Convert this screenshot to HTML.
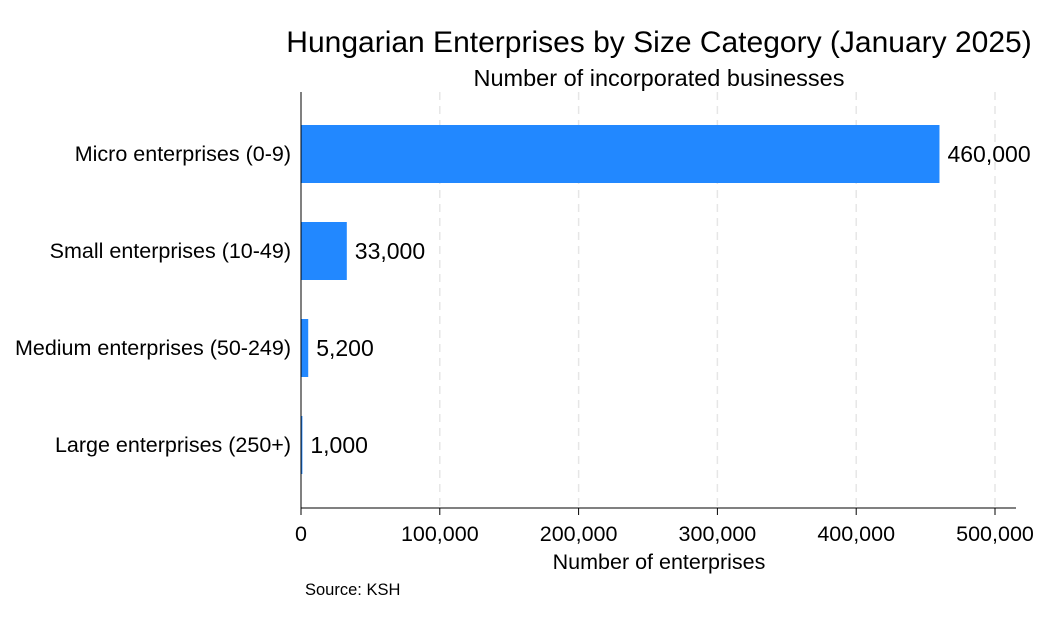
<!DOCTYPE html>
<html><head><meta charset="utf-8"><style>
body{margin:0;background:#fff;}
svg text{font-family:"Liberation Sans",Arial,sans-serif;fill:#000;}
</style></head><body>
<svg id="chart" width="1040" height="624">
<text x="659" y="52" font-size="30" text-anchor="middle">Hungarian Enterprises by Size Category (January 2025)</text>
<text x="659" y="86" font-size="23.5" text-anchor="middle">Number of incorporated businesses</text>
<g id="grid"></g><g id="bars"></g><g id="axes"></g>
<text x="659" y="569" font-size="21.5" text-anchor="middle">Number of enterprises</text>
<text x="305" y="595" font-size="16.5">Source: KSH</text>
</svg>
<script>
const categories=["Micro enterprises (0-9)","Small enterprises (10-49)","Medium enterprises (50-249)","Large enterprises (250+)"];
const values=[460000,33000,5200,1000];
const valueLabels=["460,000","33,000","5,200","1,000"];
const ticks=[0,100000,200000,300000,400000,500000];
const tickLabels=["0","100,000","200,000","300,000","400,000","500,000"];
const NS="http://www.w3.org/2000/svg";
const x0=301,x1=995,plotTop=92,plotBottom=508,barH=58,firstC=154,lastC=445;
const xs=v=>x0+v/500000*(x1-x0);
const ys=i=>firstC+i*((lastC-firstC)/(categories.length-1));
function mk(t,a,p){const e=document.createElementNS(NS,t);for(const k in a)e.setAttribute(k,a[k]);p.appendChild(e);return e;}
const G=document.getElementById('grid'),B=document.getElementById('bars'),A=document.getElementById('axes');
ticks.forEach((t,i)=>{
 if(t>0){const l=mk('line',{x1:xs(t),x2:xs(t),y1:plotTop,y2:plotBottom,stroke:'#e6e6e6','stroke-width':1.5,'stroke-dasharray':'8,6'},G);
 
 }
 const tk=mk('line',{x1:xs(t),x2:xs(t),y1:plotBottom,y2:plotBottom+7,stroke:'#000','stroke-width':1},A);
 
 
 const tl=mk('text',{x:xs(t),y:541,'font-size':21.5,'text-anchor':'middle'},A);tl.textContent=tickLabels[i];
 
 
});
categories.forEach((c,i)=>{
 const cy=ys(i);
 const r=mk('rect',{x:x0,y:cy-barH/2,width:Math.max(xs(values[i])-x0,1),height:barH,fill:'#2288ff'},B);
 
 
 const vl=mk('text',{x:xs(values[i])+8,y:cy+8,'font-size':23},B);vl.textContent=valueLabels[i];
 
 
 const cl=mk('text',{x:291,y:cy+7,'font-size':21.5,'text-anchor':'end'},A);cl.textContent=c;
 
 
});
const ya=mk('line',{x1:x0,x2:x0,y1:plotTop,y2:plotBottom,stroke:'#000','stroke-width':1},A);


const xa=mk('line',{x1:x0,x2:1016,y1:plotBottom,y2:plotBottom,stroke:'#000','stroke-width':1},A);


</script>
</body></html>
